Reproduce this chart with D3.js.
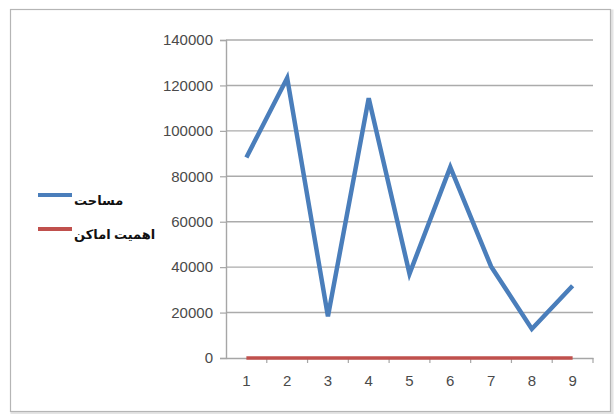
<!DOCTYPE html>
<html>
<head>
<meta charset="utf-8">
<script src="https://cdn.jsdelivr.net/npm/d3@7"></script>
<style>
  body { margin: 0; background: #fff; }
  svg { display: block; }
</style>
</head>
<body>
<svg id="chart"></svg>
<script>
const categories = ["1", "2", "3", "4", "5", "6", "7", "8", "9"];
const areaValues = [88300, 123300, 18300, 114400, 37100, 84000, 40300, 12800, 31800];
const placeValues = [5, 5, 5, 5, 5, 5, 5, 5, 5];
const yTicks = [0, 20000, 40000, 60000, 80000, 100000, 120000, 140000];
const seriesNames = ["مساحت", "اهمیت اماکن"];

const W = 614, H = 414;
const margin = {top: 40, right: 21, bottom: 56, left: 226};
const width = W - margin.left - margin.right;
const height = H - margin.top - margin.bottom;

const svg = d3.select("#chart")
              .attr("width", W)
              .attr("height", H);

// outer frame
svg.append("rect")
   .attr("x", 12).attr("y", 11)
   .attr("width", 600).attr("height", 402)
   .attr("fill", "none")
   .attr("stroke", "#e4e4e4")
   .attr("stroke-width", 3);
svg.append("rect")
   .attr("x", 10.5).attr("y", 9.5)
   .attr("width", 600).attr("height", 402)
   .attr("fill", "#fff")
   .attr("stroke", "#b5b5b5")
   .attr("stroke-width", 1.2);

const g = svg.append("g")
             .attr("transform", `translate(${margin.left},${margin.top})`);

const xBand = d3.scaleBand()
                .domain(categories)
                .range([0, width]);

const yScale = d3.scaleLinear()
                 .domain([0, 140000])
                 .range([height, 0]);

// gridlines
g.selectAll(".grid")
 .data(yTicks.filter(d => d > 0))
 .enter()
 .append("line")
 .attr("x1", 0).attr("x2", width)
 .attr("y1", d => yScale(d)).attr("y2", d => yScale(d))
 .attr("stroke", "#ababab")
 .attr("stroke-width", 1.4);

const labelFont = sel => sel
  .attr("fill", "#4a4a4a")
  .style("font-family", "'Liberation Sans', Arial, sans-serif")
  .style("font-size", "15px");

// y axis
const yAxis = d3.axisLeft(yScale)
                .tickValues(yTicks)
                .tickFormat(d3.format("d"))
                .tickSize(6)
                .tickPadding(7);
const yG = g.append("g").call(yAxis);
yG.select(".domain").attr("stroke", "#a6a6a6").attr("stroke-width", 1.4);
yG.selectAll(".tick line").attr("stroke", "#a6a6a6").attr("stroke-width", 1.2);
yG.selectAll("text").call(labelFont);

// x axis
const xAxis = d3.axisBottom(xBand).tickSize(0).tickPadding(17);
const xG = g.append("g")
            .attr("transform", `translate(0,${height})`)
            .call(xAxis);
xG.select(".domain").attr("stroke", "#a6a6a6").attr("stroke-width", 1.4);
xG.selectAll("text").call(labelFont);

// x tick marks at category boundaries
g.selectAll(".xtick")
 .data(categories)
 .enter()
 .append("line")
 .attr("x1", d => xBand(d) + xBand.bandwidth())
 .attr("x2", d => xBand(d) + xBand.bandwidth())
 .attr("y1", height).attr("y2", height + 5)
 .attr("stroke", "#a6a6a6")
 .attr("stroke-width", 1.2);

const line = d3.line()
               .x((d, i) => xBand(categories[i]) + xBand.bandwidth() / 2)
               .y(d => yScale(d));

g.append("path")
 .datum(placeValues)
 .attr("d", line)
 .attr("fill", "none")
 .attr("stroke", "#c0504d")
 .attr("stroke-width", 3.5);

g.append("path")
 .datum(areaValues)
 .attr("d", line)
 .attr("fill", "none")
 .attr("stroke", "#4a7ebb")
 .attr("stroke-width", 4.5)
 .attr("stroke-linejoin", "miter");

// legend
const legendColors = ["#4a7ebb", "#c0504d"];
const legend = svg.append("g");
seriesNames.forEach((name, i) => {
  const y = 195 + i * 34;
  legend.append("line")
        .attr("x1", 38).attr("x2", 72)
        .attr("y1", y).attr("y2", y)
        .attr("stroke", legendColors[i])
        .attr("stroke-width", 4);
  legend.append("text")
        .attr("x", 74).attr("y", y + 10)
        .attr("text-anchor", "start")
        .attr("fill", "#111")
        .style("font-family", "'Noto Sans', 'DejaVu Sans', sans-serif")
        .style("font-weight", "bold")
        .style("font-size", "13px")
        .text(name);
});
</script>
</body>
</html>
